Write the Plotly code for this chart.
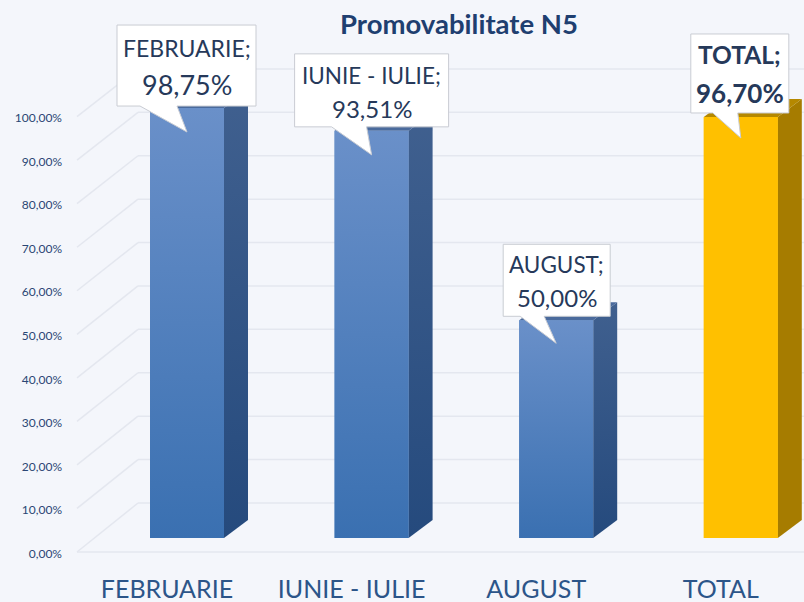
import plotly.graph_objects as go

# ---- data ----
categories = ["FEBRUARIE", "IUNIE - IULIE", "AUGUST", "TOTAL"]
values = [98.75, 93.51, 50.00, 96.70]
value_labels = ["98,75%", "93,51%", "50,00%", "96,70%"]
tick_values = [0, 10, 20, 30, 40, 50, 60, 70, 80, 90, 100]
tick_labels = ["0,00%", "10,00%", "20,00%", "30,00%", "40,00%", "50,00%",
               "60,00%", "70,00%", "80,00%", "90,00%", "100,00%"]

# ---- scale of the picture (pixels per unit) ----
PX_X, PX_Y = 184.6, 4.354
X0_PX, Y0_PX = 187, 538
L, B = 63, 30
W, H = 804, 602
def dx(p): return p / PX_X
def dy(p): return p / PX_Y

BAR_W = dx(74)
DEPTH_X, DEPTH_Y = dx(24), dy(18)
FLOOR = dy(-14)                 # front edge of the floor, relative to bar base
LABEL_FLOOR = dy(-15.5)         # tick label baseline offset
BACK = dy(35)                   # back wall zero, relative to bar base
GRID_SCALE = 0.997              # back wall spacing relative to the bar scale
LEFT_F, LEFT_B = dx(77 - 187), dx(138 - 187)

BG = "#f4f6fb"
GRID = "#e4e7ef"
NAVY = "#1f3f70"
TXT = "#26395a"
AXT = "#2a4674"

front_grad = [("#6a90c9", "#3a70b1")] * 3 + [("#ffc000", "#ffc000")]
side_grad = [("#40608f", "#254a7d")] * 3 + [("#a67c00", "#a67c00")]
top_col = ["#4a6a9c"] * 3 + [("#b58800")]
mid_col = ["#5180bd"] * 3 + ["#ffc000"]

# callout geometry in pixels relative to the bar's top-centre
callouts = [
    dict(l=-70, r=69, t=83, b=2, bl=-47, br=-10, tip=24, fs1=23, fs2=27, bold=False, y1=60, y2=24),
    dict(l=-77, r=77, t=77, b=4, bl=-40, br=-5, tip=24, fs1=22.5, fs2=24, bold=False, y1=55, y2=22),
    dict(l=-53, r=54, t=76, b=4, bl=-36, br=-12, tip=23, fs1=22.5, fs2=24, bold=False, y1=56, y2=23),
    dict(l=-50, r=48, t=83, b=4, bl=-28, br=-3, tip=21, fs1=24.5, fs2=26, bold=True, y1=62, y2=24),
]

fig = go.Figure()

fig.add_trace(go.Bar(x=list(range(len(values))), y=values, width=BAR_W,
                     marker=dict(color=mid_col, line=dict(width=0)),
                     showlegend=False, hoverinfo="skip"))

for i, v in enumerate(values):
    xl, xr = i - BAR_W / 2, i + BAR_W / 2
    fig.add_trace(go.Scatter(
        x=[xr, xr + DEPTH_X, xr + DEPTH_X, xr, xr],
        y=[0, DEPTH_Y, v + DEPTH_Y, v, 0], mode="lines", line=dict(width=0),
        fill="toself",
        fillgradient=dict(type="vertical",
                          colorscale=[[0, side_grad[i][1]], [1, side_grad[i][0]]]),
        showlegend=False, hoverinfo="skip"))
    fig.add_trace(go.Scatter(
        x=[xl, xl + DEPTH_X, xr + DEPTH_X, xr, xl],
        y=[v, v + DEPTH_Y, v + DEPTH_Y, v, v], mode="lines", line=dict(width=0),
        fill="toself", fillcolor=top_col[i], showlegend=False, hoverinfo="skip"))
    fig.add_trace(go.Scatter(
        x=[xl, xr, xr, xl, xl], y=[0, 0, v, v, 0], mode="lines", line=dict(width=0),
        fill="toself",
        fillgradient=dict(type="vertical",
                          colorscale=[[0, front_grad[i][1]], [1, front_grad[i][0]]]),
        showlegend=False, hoverinfo="skip"))

shapes = []
for t in tick_values:
    back_y = t * GRID_SCALE + BACK
    shapes.append(dict(type="line", layer="below", xref="x", yref="y",
                       x0=LEFT_F, y0=t + FLOOR, x1=LEFT_B, y1=back_y,
                       line=dict(color=GRID, width=1.5)))
    shapes.append(dict(type="line", layer="below", xref="x", yref="y",
                       x0=LEFT_B, y0=back_y, x1=dx(W - X0_PX), y1=back_y,
                       line=dict(color=GRID, width=1.5)))
shapes.append(dict(type="line", layer="below", xref="x", yref="y",
                   x0=LEFT_F, y0=FLOOR, x1=dx(W - X0_PX), y1=FLOOR,
                   line=dict(color=GRID, width=1.5)))

annotations = []
for i, v in enumerate(values):
    c = callouts[i]
    X = lambda p: i + dx(p)
    Y = lambda p: v + dy(p)
    path = (f"M {X(c['l'])} {Y(c['t'])} L {X(c['r'])} {Y(c['t'])} "
            f"L {X(c['r'])} {Y(c['b'])} L {X(c['br'])} {Y(c['b'])} "
            f"L {X(0)} {Y(-c['tip'])} L {X(c['bl'])} {Y(c['b'])} "
            f"L {X(c['l'])} {Y(c['b'])} Z")
    shapes.append(dict(type="path", path=path, xref="x", yref="y", layer="above",
                       fillcolor="#ffffff", line=dict(color="#c9ccd3", width=1)))
    mid = (c['l'] + c['r']) / 2
    first = categories[i] + ";"
    second = value_labels[i]
    if c["bold"]:
        first, second = f"<b>{first}</b>", f"<b>{second}</b>"
    annotations.append(dict(x=X(mid), y=Y(c['y1']), text=first, showarrow=False,
                            xref="x", yref="y", xanchor="center", yanchor="middle",
                            font=dict(family="Lato", size=c['fs1'], color=TXT)))
    annotations.append(dict(x=X(mid), y=Y(c['y2']), text=second, showarrow=False,
                            xref="x", yref="y", xanchor="center", yanchor="middle",
                            font=dict(family="Lato", size=c['fs2'], color=TXT)))

fig.update_layout(
    width=W, height=H, paper_bgcolor=BG, plot_bgcolor=BG,
    margin=dict(l=L, r=0, t=0, b=B, pad=0), showlegend=False,
    title=dict(text="<b>Promovabilitate N5</b>", x=459 / W, y=1 - 24 / H,
               xref="container", yref="container", xanchor="center", yanchor="middle",
               font=dict(family="Lato", size=27.5, color=NAVY)),
    xaxis=dict(range=[dx(L - X0_PX), dx(W - X0_PX)], showgrid=False, zeroline=False,
               showline=False, ticks="",
               tickmode="array", tickvals=[i + dx(-20) for i in range(len(categories))],
               ticktext=categories, tickfont=dict(family="Lato", size=25, color="#2c5589")),
    yaxis=dict(range=[dy(Y0_PX - (H - B)), dy(Y0_PX)], showgrid=False, zeroline=False,
               showline=False, ticks="",
               tickmode="array", tickvals=[t + LABEL_FLOOR for t in tick_values],
               ticktext=tick_labels, tickfont=dict(family="Lato", size=12, color=AXT)),
    shapes=shapes, annotations=annotations,
)
fig.write_html("out.html", config=dict(displayModeBar=False), post_script=(
    "document.body.style.margin='0';document.body.style.overflow='hidden';"
    f"document.body.style.background='{BG}';"))
